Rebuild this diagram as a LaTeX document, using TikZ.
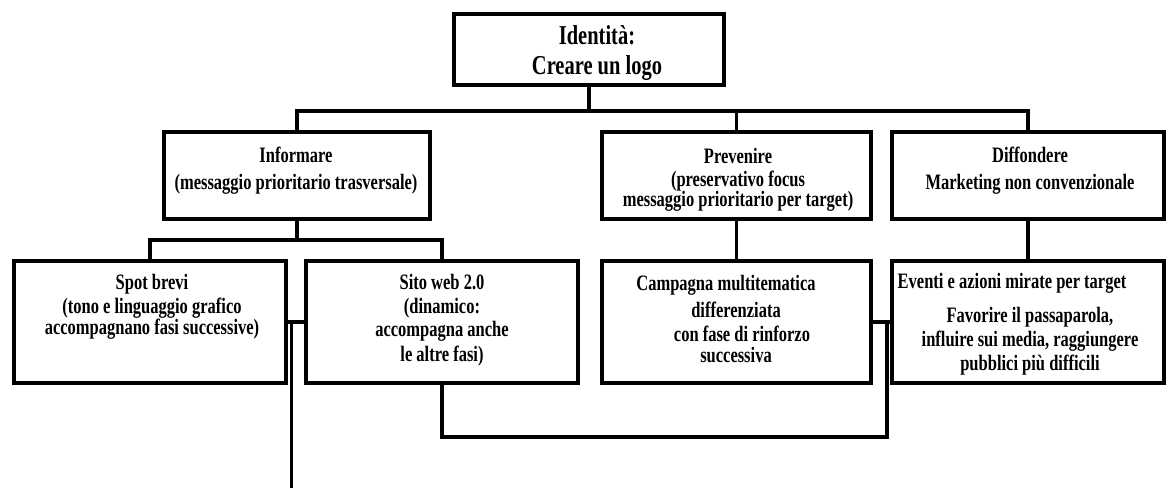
\documentclass[tikz,border=0pt]{standalone}
\usepackage{fontspec}
\setmainfont{Liberation Serif}[FakeStretch=0.75]
\begin{document}
\begin{tikzpicture}[x=1pt,y=-1pt,
  box/.style={draw=black, line width=4pt, inner sep=0pt, rectangle},
  conn/.style={draw=black, line width=3.8pt},
  big/.style={font=\fontsize{27.3}{30}\selectfont\bfseries, align=center, inner sep=0pt},
  txt/.style={font=\fontsize{22}{24}\selectfont\bfseries, align=center, inner sep=0pt},
  txtw/.style={font=\fontsize{22}{27}\selectfont\bfseries, align=center, inner sep=0pt}]
\useasboundingbox[fill=white] (0,0) rectangle (1168,488);

% boxes
\node[box, minimum width=270pt, minimum height=71pt] (top) at (589,49.5) {};
\node[box, minimum width=266pt, minimum height=87pt] (inf) at (297,175.5) {};
\node[box, minimum width=269pt, minimum height=87pt] (prev) at (736.5,175.5) {};
\node[box, minimum width=272pt, minimum height=87pt] (diff) at (1028,175.5) {};
\node[box, minimum width=272pt, minimum height=122pt] (spot) at (150,322) {};
\node[box, minimum width=272pt, minimum height=122pt] (sito) at (442,322) {};
\node[box, minimum width=269pt, minimum height=122pt] (camp) at (736.5,322) {};
\node[box, minimum width=272pt, minimum height=122pt] (even) at (1028,322) {};

% texts
\node[big] (topt) at (597,53) {Identità:\\Creare un logo};
\node[txtw] (inft) at (296,171) {Informare\\(messaggio prioritario trasversale)};
\node[txt] (prevt) at (738,180) {Prevenire\\[-1pt](preservativo focus\\[-4pt]messaggio prioritario per target)};
\node[txtw] (difft) at (1030,171) {Diffondere\\Marketing non convenzionale};
\node[txt] (spott) at (152,306.5) {Spot brevi\\(tono e linguaggio grafico\\[-3pt]accompagnano fasi successive)};
\node[txt] (sitot) at (442,320.5) {Sito web 2.0\\(dinamico:\\[-1pt]accompagna anche\\[1pt]le altre fasi)};
\node[txt] (campt) at (736,318.5) {\mbox{Campagna multitematica\hspace{20pt}}\\[3pt]differenziata\\\mbox{\hspace{12pt}con fase di rinforzo}\\[-3pt]successiva};
\node[txt] (event) at (1030,324.5) {\mbox{Eventi e azioni mirate per target\hspace{36pt}}\\[10pt]Favorire il passaparola,\\influire sui media, raggiungere\\pubblici più difficili};

% connectors
\coordinate (bus1) at (589,111);
\draw[conn] (top.south) -- (bus1);
\draw[conn] (inf.north) |- (bus1) -| (diff.north);
\draw[conn] (prev.north) -- (prev.north |- bus1);

\coordinate (bus2) at (297,240);
\draw[conn] (inf.south) -- (bus2);
\draw[conn] (spot.north) |- (bus2) -| (sito.north);
\draw[conn] (prev.south) -- (camp.north);
\draw[conn] (diff.south) -- (even.north);

\coordinate (loopR) at (887,437);
\draw[conn] (sito.south) |- (loopR) -- (loopR |- camp.east);
\draw[conn] (camp.east) -- (even.west);

\coordinate (lbot) at (291.5,488);
\draw[conn] (lbot) -- (lbot |- spot.east);
\draw[conn] (spot.east) -- (sito.west);
\end{tikzpicture}
\end{document}
